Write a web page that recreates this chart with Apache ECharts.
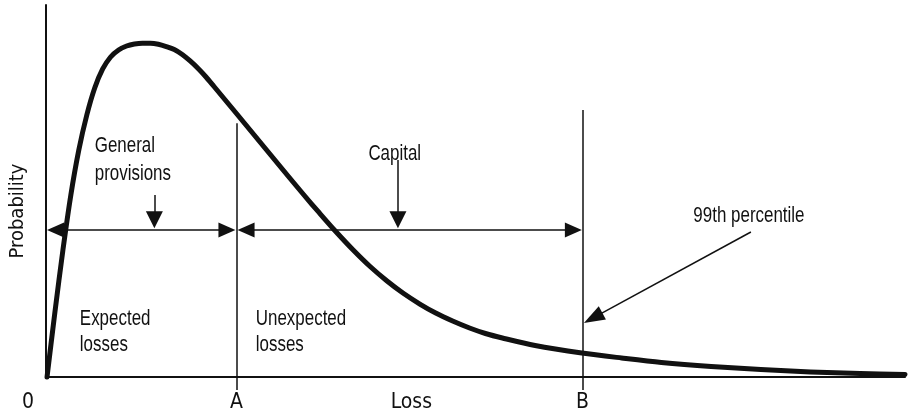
<!DOCTYPE html>
<html>
<head>
<meta charset="utf-8">
<script src="https://cdn.jsdelivr.net/npm/echarts@6/dist/echarts.min.js"></script>
<style>html,body{margin:0;padding:0;background:#fff;}#main{width:908px;height:417px;}</style>
</head>
<body>
<div id="main"></div>
<script>
// ---- data ----
const lossX = [0.12,1.04,1.97,2.89,3.82,4.75,5.67,6.60,7.52,8.45,9.38,10.30,11.23,12.15,13.08,14.00,14.93,15.86,16.78,17.71,18.63,19.56,20.72,22.22,24.19,26.16,28.13,29.98,31.83,33.68,35.76,37.73,39.70,41.55,43.52,45.37,47.34,49.31,51.16,53.13,56.94,62.38,67.01,71.64,77.43,83.22,89.00,94.79,100];
const probY = [0,17.47,34.14,48.92,61.02,70.43,77.69,82.80,86.02,87.90,88.98,89.52,89.73,89.73,89.46,88.84,88.04,86.69,84.95,82.93,80.65,78.09,74.87,70.70,65.19,59.68,54.17,49.06,44.09,39.25,34.14,29.70,25.81,22.58,19.62,17.20,15.05,13.17,11.69,10.48,8.47,6.45,5.11,3.90,2.82,2.02,1.34,0.94,0.67];
const tickLabels = ['0','A','Loss','B'];
const tickValues = [0, 22.16, 42.53, 62.44];
const markA = 22.16, markB = 62.44;
const markTopA = 68.2, markTopB = 71.8;
const arrowLevel = 39.5;
const noteText = ['General\nprovisions','Capital','Expected\nlosses','Unexpected\nlosses','99th percentile'];
const noteX = [5.67, 40.6, 3.94, 24.42, 81.83];
const noteY = [58.3, 59.9, 12.1, 12.1, 43.3];
const noteAlign = ['left','center','left','left','center'];
// arrows: [fromX, fromY, toX, toY, headAtFrom, headAtTo, headWidth, headLength]
const arrows = [
  [0.12, arrowLevel, 22.05, arrowLevel, true, true, 15, 17],
  [22.3, arrowLevel, 62.38, arrowLevel, true, true, 15, 17],
  [12.62, 48.9, 12.62, 40.0, false, true, 17, 17],
  [40.97, 58.3, 40.97, 40.0, false, true, 17, 17],
  [82.06, 38.98, 62.62, 14.52, false, true, 15, 21]
];

const AXFONT = "'DejaVu Sans Condensed','Liberation Sans Narrow',sans-serif";
const NOTEFONT = "'Liberation Sans','Arial',sans-serif";
const INK = '#111';

const chart = echarts.init(document.getElementById('main'));
const curveData = lossX.map((x, i) => [x, probY[i]]);

const option = {
  animation: false,
  grid: {left: 41, right: 3, top: 5, bottom: 40},
  xAxis: {
    type: 'value', min: 0, max: 100,
    splitLine: {show: false},
    axisLine: {lineStyle: {color: INK, width: 2}},
    axisTick: {customValues: [markA, markB], length: 13, lineStyle: {color: INK, width: 1.5}},
    axisLabel: {
      customValues: tickValues,
      margin: 15,
      color: INK, fontSize: 21, fontFamily: AXFONT,
      formatter: (v) => {
        const i = tickValues.indexOf(v);
        const t = i >= 0 ? tickLabels[i] : '';
        return v === 0 ? '{z|' + t + '}' : t;
      },
      rich: {z: {padding: [0, 36, 0, 0], fontSize: 21, fontFamily: AXFONT, color: INK}}
    }
  },
  yAxis: {
    type: 'value', min: 0, max: 100,
    splitLine: {show: false},
    axisLine: {show: true, lineStyle: {color: INK, width: 2}},
    axisTick: {show: false},
    axisLabel: {show: false},
    name: 'Probability', nameLocation: 'middle', nameRotate: 90, nameGap: 18,
    nameTextStyle: {color: INK, fontSize: 20, fontFamily: AXFONT, padding: [0, 40, 0, 0]}
  },
  series: [
    {
      id: 'curve', type: 'line', data: curveData, smooth: 0.3, showSymbol: false,
      clip: false, silent: true,
      lineStyle: {color: '#111', width: 5, cap: 'round', join: 'round'},
      markLine: {silent: true, symbol: 'none', data: []}
    }
  ]
};
chart.setOption(option);

const toPx = (p) => chart.convertToPixel({gridIndex: 0}, p);
const fromPx = (p) => chart.convertFromPixel({gridIndex: 0}, p);

function pullBack(tip, other, len) {
  const p = toPx(tip), q = toPx(other);
  const dx = q[0] - p[0], dy = q[1] - p[1];
  const d = Math.hypot(dx, dy);
  return fromPx([p[0] + dx / d * len / 2, p[1] + dy / d * len / 2]);
}

const mlData = [
  [{coord: [markA, markTopA]}, {coord: [markA, 0]}],
  [{coord: [markB, markTopB]}, {coord: [markB, 0]}]
];
arrows.forEach(a => {
  const from = [a[0], a[1]], to = [a[2], a[3]];
  const size = [a[6], a[7]];
  const f = a[4] ? pullBack(from, to, a[7]) : from;
  const t = a[5] ? pullBack(to, from, a[7]) : to;
  mlData.push([
    {coord: f, symbol: a[4] ? 'triangle' : 'none', symbolSize: size},
    {coord: t, symbol: a[5] ? 'triangle' : 'none', symbolSize: size}
  ]);
});

const lineHeights = [28.5, 24, 26, 26, 24];
const graphics = noteText.map((t, i) => {
  const p = toPx([noteX[i], noteY[i]]);
  return {
    type: 'text', x: p[0], y: p[1], scaleX: 0.77, silent: true,
    style: {
      text: t, fill: INK, fontSize: 22, fontFamily: NOTEFONT,
      textAlign: noteAlign[i], textVerticalAlign: 'middle', lineHeight: lineHeights[i]
    }
  };
});

chart.setOption({
  graphic: graphics,
  series: [{
    id: 'curve',
    markLine: {
      silent: true, symbol: 'none', animation: false,
      label: {show: false},
      emphasis: {disabled: true},
      lineStyle: {type: 'solid', color: INK, width: 1.5},
      itemStyle: {color: INK},
      data: mlData
    }
  }]
});
</script>
</body>
</html>
